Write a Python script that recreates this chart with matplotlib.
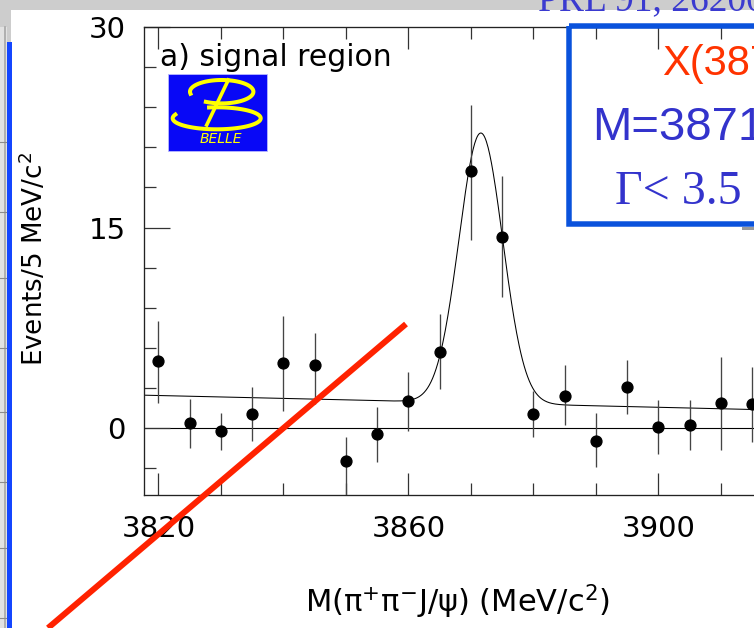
import matplotlib.pyplot as plt
import numpy as np
from matplotlib.patches import Rectangle
from matplotlib.ticker import MultipleLocator

plt.rcParams['font.family'] = 'DejaVu Sans'
plt.rcParams['mathtext.fontset'] = 'dejavusans'

# M(pi+ pi- J/psi) bins, 5 MeV wide
mass = [3820, 3825, 3830, 3835, 3840, 3845, 3850, 3855, 3860, 3865,
        3870, 3875, 3880, 3885, 3890, 3895, 3900, 3905, 3910, 3915]
events = [5.0, 0.36, -0.24, 1.07, 4.9, 4.69, -2.44, -0.44, 2.01, 5.69,
          19.2, 14.3, 1.07, 2.44, -0.94, 3.06, 0.06, 0.26, 1.9, 1.8]
err_up = [3.0, 1.85, 1.38, 2.03, 3.5, 2.42, 1.8, 2.05, 2.18, 2.88,
          5.0, 4.57, 1.74, 2.26, 2.04, 2.04, 2.04, 1.84, 3.4, 2.8]
err_dn = [3.1, 1.87, 1.37, 2.0, 3.6, 2.85, 2.7, 2.07, 2.2, 2.75,
          5.1, 4.49, 1.76, 2.18, 1.96, 2.0, 1.96, 1.86, 3.5, 2.8]

# gaussian signal on a linear background
peak_mass = 3871.6
peak_sigma = 3.5
peak_height = 20.2
bkg_at_3820 = 2.44
bkg_slope = -0.011

x_lo, x_hi = 3817.7, 3925.0

W, H = 754, 628
fig = plt.figure(figsize=(W / 100, H / 100), dpi=100)
fig.patch.set_facecolor('#cdcdcd')

# slide background
back = fig.add_axes([0, 0, 1, 1], zorder=0)
back.set_xlim(0, W)
back.set_ylim(H, 0)
back.axis('off')
back.add_patch(Rectangle((11, 10), W, H, fc='white', ec='none'))
back.add_patch(Rectangle((0, 27), 7, H, fc='#e2e2e2', ec='none'))
back.plot([4.5, 4.5], [27, H], color='#a6a6a6', lw=1.2)
for yy in [142, 212, 278, 348, 412, 482, 548, 618]:
    back.plot([0, 6], [yy, yy], color='#8a8a8a', lw=0.8)
back.add_patch(Rectangle((7, 42), 5, H, fc='#1446ff', ec='none'))

# the histogram panel
ax = fig.add_axes([144 / W, 133 / H, (x_hi - x_lo) * 6.25 / W, 468 / H], zorder=1)
ax.set_facecolor('none')
ax.set_xlim(x_lo, x_hi)
ax.set_ylim(-5, 30)
ax.set_xticks([3820, 3860, 3900])
ax.set_yticks([0, 15, 30])
ax.xaxis.set_minor_locator(MultipleLocator(10))
ax.yaxis.set_minor_locator(MultipleLocator(3))
ax.tick_params(which='both', direction='in', top=True, right=True,
               width=0.9, color='#333333', labelsize=21)
ax.tick_params(which='major', length=16)
ax.tick_params(which='minor', length=8.5)
ax.tick_params(axis='x', pad=14.5)
ax.tick_params(axis='y', pad=13)
ax.tick_params(axis='y', which='major', length=19)
for sp in ax.spines.values():
    sp.set_linewidth(0.95)
    sp.set_color('#222222')

ax.axhline(0, color='black', lw=0.8, zorder=1)
xf = np.linspace(x_lo, x_hi, 800)
fit = bkg_at_3820 + bkg_slope * (xf - 3820) + \
    peak_height * np.exp(-0.5 * ((xf - peak_mass) / peak_sigma) ** 2)
ax.plot(xf, fit, color='black', lw=0.75, zorder=2)
ax.errorbar(mass, events, yerr=[err_dn, err_up], fmt='o', color='black',
            ecolor='#444444', elinewidth=0.95, markersize=7.8, capsize=0, zorder=3)

# labels, logo and slide annotations
front = fig.add_axes([0, 0, 1, 1], zorder=2)
front.set_xlim(0, W)
front.set_ylim(H, 0)
front.axis('off')

front.text(34, 259, 'Events/5 MeV/c$^{2}$', rotation=90, ha='center', va='center',
           fontsize=18.8)
front.text(457, 602, r'M($\mathrm{\pi}^{+}\mathrm{\pi}^{-}$J/$\mathrm{\psi}$) (MeV/c$^{2}$)',
           ha='center', va='center', fontsize=22)
front.text(160, 66.5, 'a) signal region', ha='left', va='baseline', fontsize=21.5)

front.add_patch(Rectangle((167.5, 73.5), 99, 77, fc='#0808f6', ec='#b8b8ff', lw=0.6))
t = np.radians(np.linspace(190, -120, 120))
front.plot(221.7 + 31.7 * np.cos(t), 91.7 - 11.7 * np.sin(t), color='#ffff00', lw=2.9)
t = np.radians(np.linspace(100, -200, 120))
front.plot(216.7 + 44 * np.cos(t), 118.3 - 11 * np.sin(t), color='#ffff00', lw=2.9)
front.plot([228.3, 206.7], [80, 125], color='#ffff00', lw=2.6)
front.text(220.8, 139, 'BELLE', ha='center', va='center', fontsize=10,
           style='italic', color='#ffff00')

front.plot([48, 406], [628, 324], color='#ff2200', lw=4.3, solid_capstyle='butt')

front.add_patch(Rectangle((569, 26), 300, 198.4, fill=False, ec='#0a52dc', lw=3.96))
front.add_patch(Rectangle((742, 227), 14, 2.5, fc='#9a9a9a', ec='none'))
front.text(662, 75, 'X(3872)', ha='left', va='baseline', fontsize=30,
           family='Liberation Sans', color='#ff3300')
front.text(592, 140, 'M=3871.8', ha='left', va='baseline', fontsize=34,
           family='Liberation Sans', color='#3333cc')
front.text(615, 203, 'Γ< 3.5 MeV', ha='left', va='baseline', fontsize=34.5,
           family='Liberation Serif', color='#3333cc')
front.text(538, 10, 'PRL 91, 262001', ha='left', va='baseline', fontsize=27,
           family='Liberation Serif', color='#3a3ad0')

fig.savefig('out.png', dpi=100)
